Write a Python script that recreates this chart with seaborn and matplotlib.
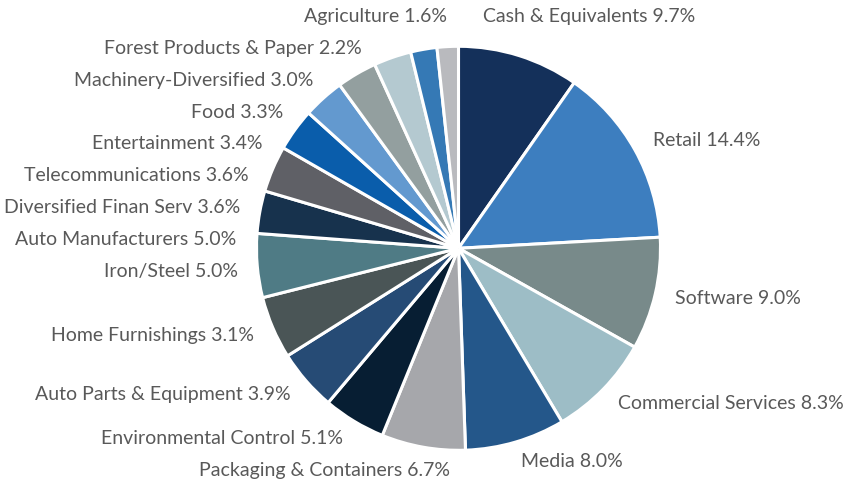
import numpy as np
import matplotlib
matplotlib.use('Agg')
import matplotlib.pyplot as plt
import seaborn as sns

# Sector weights, in drawing order (clockwise from 12 o'clock)
sectors = ['Cash & Equivalents', 'Retail', 'Software', 'Commercial Services', 'Media',
           'Packaging & Containers', 'Environmental Control', 'Auto Parts & Equipment',
           'Home Furnishings', 'Iron/Steel', 'Auto Manufacturers', 'Diversified Finan Serv',
           'Telecommunications', 'Entertainment', 'Food', 'Machinery-Diversified',
           'Forest Products & Paper', 'Agriculture']
# percentages printed in the labels
label_pcts = [9.7, 14.4, 9.0, 8.3, 8.0, 6.7, 5.1, 3.9, 3.1, 5.0, 5.0, 3.6, 3.6, 3.4, 3.3, 3.0, 2.2, 1.6]
# slice sizes as drawn in the chart
slice_sizes = [9.7, 14.4, 9.0, 8.3, 8.0, 6.7, 5.0, 4.9, 5.0, 5.1, 3.4, 3.7, 3.4, 3.3, 3.2, 3.0, 2.1, 1.7]
colors = ['#14305a', '#3d7ebf', '#788a8a', '#9dbdc6', '#24578a', '#a6a7ab',
          '#071e33', '#264b75', '#4a5556', '#4f7b85', '#17324d', '#5f6066',
          '#0a5dab', '#6399cf', '#939f9f', '#b4c9d0', '#3579b5', '#b9babe']

sns.set_style('white')
plt.rcParams['font.family'] = ['Lato', 'DejaVu Sans']

fig = plt.figure(figsize=(8.6, 4.83), dpi=100)
ax = fig.add_axes([0, 0, 1, 1])

wedges, _ = ax.pie(slice_sizes, colors=colors, startangle=90, counterclock=False,
                   radius=1, wedgeprops=dict(edgecolor='white', linewidth=2.2))

# label layout: put labels on a ring just outside the pie, stack the crowded left side
R = 1.1
half_h = 0.05
gap = 0.158
label_nudge = {'Cash & Equivalents': (-0.21, 0.05)}

info = []
for w in wedges:
    th = np.deg2rad((w.theta1 + w.theta2) / 2)
    px, py = R * np.cos(th), R * np.sin(th)
    if np.sin(th) > 0.95:
        py = py + half_h
    info.append([px, py])

# left side, top to bottom (reverse drawing order)
left = [i for i in range(len(wedges)) if info[i][0] < 0][::-1]
prev = None
for i in left:
    y = info[i][1]
    if prev is not None:
        y = min(y, prev - gap)
    if abs(y) < R:
        info[i][0] = -np.sqrt(R**2 - y**2)
    info[i][1] = y
    prev = y

for i, name in enumerate(sectors):
    x, y = info[i]
    dx, dy = label_nudge.get(name, (0, 0))
    ha = 'left' if x >= 0 else 'right'
    ax.text(x + dx, y + dy, f'{name} {label_pcts[i]:.1f}%', ha=ha, va='center',
            fontsize=14, color='#595959')

cx, cy, rpx = 458.5, 248.3, 202
ax.set_xlim(-cx / rpx, (860 - cx) / rpx)
ax.set_ylim(-(483 - cy) / rpx, cy / rpx)
ax.set_aspect('equal', adjustable='box')
ax.axis('off')

plt.savefig('out.png', dpi=100)
